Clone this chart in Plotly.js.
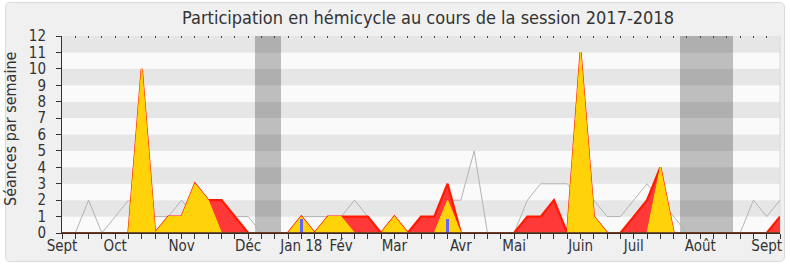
<!DOCTYPE html>
<html>
<head>
<meta charset="utf-8">
<script src="https://cdn.plot.ly/plotly-3.0.1.min.js"></script>
<style>html,body{margin:0;padding:0;background:#fff;}#chart{width:790px;height:267px;}</style>
</head>
<body>
<div id="chart"></div>
<script>
// Weekly data, week index 0 = first week of September 2017
var weeks = [];
for (var w = 0; w <= 54; w++) weeks.push(w);

var presences = [0,0,0,0,0,0,10,0,1,1,3,2,2,1,0,0,0,0,1,0,1,1,1,1,0,1,0,1,1,3,0,0,0,0,0,1,1,2,0,11,1,0,0,1,2,4,0,0,0,0,0,0,0,0,1];
var participations = [0,0,0,0,0,0,10,0,1,1,3,2,0,0,0,0,0,0,1,0,1,1,0,0,0,1,0,0,0,2,0,0,0,0,0,0,0,0,0,11,1,0,0,0,0,4,0,0,0,0,0,0,0,0,0];
var mediane = [0,0,2,0,1,2,1,1,1,2,1,1,1,1,1,0,0,0,1,1,1,1,2,1,0,1,0,1,1,2,2,5,0,0,0,2,3,3,3,2,2,1,1,2,3,2,1,0,0,0,0,0,2,1,2];
var questionWeeks = [18, 29];
var questionValues = [0.87, 0.87];
var vacationWeeks = [15, 16, 47, 48, 49, 50];
var vacationHeight = [12, 12, 12, 12, 12, 12];
var monthLabels = ['Sept','Oct','Nov','Déc','Jan 18','Fév','Mar','Avr','Mai','Juin','Juil','Août','Sept'];
var monthWeeks = [0, 4, 9, 14, 18, 21, 25, 30, 34, 39, 43, 48, 53];

var FONT = 'DejaVu Sans Condensed, DejaVu Sans, sans-serif';
var ticktext = weeks.map(function (w) {
  var k = monthWeeks.indexOf(w);
  return k >= 0 ? monthLabels[k] : '';
});

// geometry helpers (pixel -> paper)
var L = 62, R = 10, T = 36, B = 34, W = 790, H = 267;
var pw = W - L - R, ph = H - T - B;
function px(x) { return ((x - L) / pw).toFixed(5); }
function py(y) { return ((H - B - y) / ph).toFixed(5); }
var x0 = 5.5, x1 = 784.5, y0 = 2.5, y1 = 261.5, r = 5;
var framePath = 'M' + px(x0 + r) + ',' + py(y0) +
  ' L' + px(x1 - r) + ',' + py(y0) +
  ' Q' + px(x1) + ',' + py(y0) + ' ' + px(x1) + ',' + py(y0 + r) +
  ' L' + px(x1) + ',' + py(y1 - r) +
  ' Q' + px(x1) + ',' + py(y1) + ' ' + px(x1 - r) + ',' + py(y1) +
  ' L' + px(x0 + r) + ',' + py(y1) +
  ' Q' + px(x0) + ',' + py(y1) + ' ' + px(x0) + ',' + py(y1 - r) +
  ' L' + px(x0) + ',' + py(y0 + r) +
  ' Q' + px(x0) + ',' + py(y0) + ' ' + px(x0 + r) + ',' + py(y0) + ' Z';

var shapes = [{
  type: 'path', xref: 'paper', yref: 'paper', path: framePath,
  fillcolor: '#f0f0f0', line: {color: '#dadada', width: 1}, layer: 'below'
}];
for (var b = 0; b < 12; b++) {
  shapes.push({
    type: 'rect', xref: 'paper', yref: 'y', x0: 0, x1: 1, y0: b, y1: b + 1,
    fillcolor: (b % 2 === 0) ? '#fafafa' : '#e6e6e6', line: {width: 0}, layer: 'below'
  });
}
shapes.push({
  type: 'line', xref: 'paper', yref: 'paper', x0: 1, x1: 1, y0: 0, y1: 1,
  line: {color: '#d8d8d8', width: 1}, layer: 'below'
});
// dark baseline drawn over the series at zero
shapes.push({
  type: 'line', xref: 'paper', yref: 'y', x0: 0, x1: 1, y0: 0, y1: 0,
  line: {color: '#4a2424', width: 1.6}, layer: 'above'
});

var traces = [
  {type: 'bar', x: vacationWeeks, y: vacationHeight, width: 1,
   marker: {color: 'rgba(0,0,0,0.24)', line: {width: 0}}, hoverinfo: 'skip'},
  {type: 'scatter', mode: 'lines', x: weeks, y: mediane,
   line: {color: '#b3b3b3', width: 1}},
  {type: 'scatter', mode: 'lines', x: weeks, y: presences, fill: 'tozeroy',
   fillcolor: '#ff3838', line: {color: '#ff1a00', width: 2.2}},
  {type: 'scatter', mode: 'lines', x: weeks, y: participations, fill: 'tozeroy',
   fillcolor: '#ffd20a', line: {color: '#ffd800', width: 1}},
  {type: 'bar', x: questionWeeks, y: questionValues, width: 0.25,
   xaxis: 'x2', yaxis: 'y2',
   marker: {color: '#6464ff', line: {width: 0}}}
];

var layout = {
  width: W, height: H,
  margin: {l: L, r: R, t: T, b: B},
  paper_bgcolor: '#ffffff',
  plot_bgcolor: 'rgba(0,0,0,0)',
  showlegend: false,
  bargap: 0,
  title: {
    text: 'Participation en hémicycle au cours de la session 2017-2018',
    font: {family: FONT, size: 18, color: '#333333'},
    x: 428 / W, xref: 'container', xanchor: 'center',
    y: 1 - 18 / H, yref: 'container', yanchor: 'middle'
  },
  xaxis: {
    range: [0, 54], tickmode: 'array', tickvals: weeks, ticktext: ticktext,
    ticks: 'outside', ticklen: 5, tickcolor: '#333', tickwidth: 1,
    showline: true, linecolor: '#3a2a2a', linewidth: 1,
    showgrid: false, zeroline: false, fixedrange: true,
    ticklabelstandoff: -6,
    tickfont: {family: FONT, size: 15, color: '#333'}, tickangle: 0
  },
  xaxis2: {
    range: [0, 54], overlaying: 'x', side: 'top', tickmode: 'array', tickvals: weeks,
    showticklabels: false, ticks: 'inside', ticklen: 1.5, tickcolor: '#444',
    showline: false, showgrid: false, zeroline: false
  },
  yaxis: {
    range: [0, 12], dtick: 1, ticks: 'outside', ticklen: 5, tickcolor: '#333',
    showline: true, linecolor: '#333', linewidth: 1,
    showgrid: false, zeroline: false, fixedrange: true,
    ticklabelstandoff: 7,
    tickfont: {family: FONT, size: 15, color: '#333'}
  },
  yaxis2: {range: [0, 12], overlaying: 'y', visible: false},
  shapes: shapes,
  annotations: [{
    text: 'Séances par semaine', textangle: -90, showarrow: false,
    xref: 'paper', yref: 'paper', x: px(11), y: py(129),
    xanchor: 'center', yanchor: 'middle',
    font: {family: FONT, size: 16, color: '#333'}
  }]
};

Plotly.newPlot('chart', traces, layout, {displayModeBar: false, staticPlot: true});
</script>
</body>
</html>
